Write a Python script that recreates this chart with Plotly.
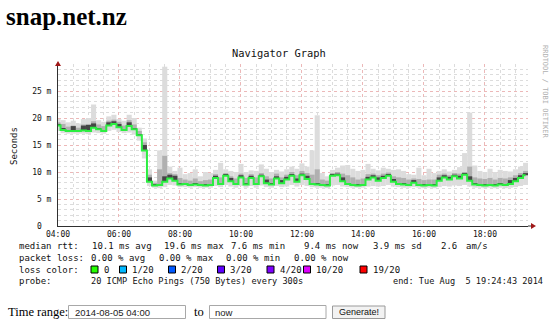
import plotly.graph_objects as go

# ---------------- data (10-minute samples, ms) ----------------
times = [f"2014-08-05 {4 + (i * 10) // 60:02d}:{(i * 10) % 60:02d}" for i in range(93)]

median = [18.6, 17.8, 17.6, 17.6, 17.6, 17.7, 17.6, 18.2, 17.9, 17.6, 18.6, 18.9, 18.3, 17.8, 18.5, 17.9,
          16.8, 14.0, 8.2, 7.5, 7.6, 8.2, 8.8, 8.4, 7.7, 7.8, 7.6, 7.7, 7.6, 7.5, 7.6, 8.9,
          7.8, 9.3, 8.3, 7.8, 9.0, 7.7, 8.9, 7.8, 9.2, 7.9, 7.7, 8.8, 7.9, 8.6, 9.3, 8.2,
          9.4, 8.7, 7.8, 7.7, 7.6, 7.5, 9.3, 9.4, 8.3, 7.8, 7.6, 7.5, 7.6, 8.6, 9.0, 8.4,
          8.9, 9.3, 8.2, 7.8, 7.7, 7.6, 8.0, 7.6, 7.5, 7.6, 7.5, 8.4, 9.0, 8.6, 9.2, 8.8,
          9.5, 8.4, 7.7, 7.6, 7.5, 7.6, 7.5, 7.7, 7.6, 7.8, 8.3, 8.9, 9.4]
smoke_lo = [17.6, 17.2, 17.1, 17.1, 17.1, 17.1, 17.0, 17.3, 17.2, 17.1, 17.6, 17.8, 17.4, 17.2, 17.3, 16.9,
            15.8, 12.5, 7.4, 7.1, 7.0, 7.2, 7.6, 7.5, 7.2, 7.2, 7.1, 7.2, 7.1, 7.1, 7.1, 7.4,
            7.2, 7.6, 7.3, 7.1, 7.4, 7.1, 7.4, 7.1, 7.5, 7.2, 7.1, 7.4, 7.2, 7.3, 7.6, 7.3,
            7.6, 7.4, 7.2, 7.1, 7.1, 7.0, 7.5, 7.6, 7.3, 7.2, 7.1, 7.1, 7.1, 7.3, 7.4, 7.3,
            7.4, 7.6, 7.3, 7.2, 7.1, 7.1, 7.2, 7.1, 7.0, 7.1, 7.0, 7.2, 7.4, 7.3, 7.5, 7.4,
            7.6, 7.3, 7.1, 7.1, 7.0, 7.1, 7.0, 7.1, 7.0, 7.1, 7.2, 7.4, 7.6]
smoke_hi = [19.8, 19.6, 19.2, 19.5, 19.0, 19.8, 20.0, 22.5, 19.6, 19.3, 20.3, 20.6, 19.8, 19.5, 20.6, 20.0,
            18.2, 16.2, 10.5, 8.4, 14.0, 29.5, 11.0, 10.2, 10.8, 9.6, 9.8, 10.5, 9.2, 10.0, 9.8, 10.4,
            11.7, 10.5, 10.2, 10.0, 11.5, 10.0, 10.3, 10.2, 11.4, 10.6, 10.0, 10.4, 10.1, 10.5, 11.0, 10.6,
            11.6, 11.0, 14.0, 20.5, 9.8, 9.2, 10.4, 10.8, 11.2, 11.3, 10.6, 10.2, 10.4, 11.5, 10.6, 10.3,
            10.8, 10.6, 10.4, 10.5, 10.2, 9.6, 9.5, 10.8, 9.4, 10.6, 9.8, 10.2, 10.5, 10.1, 10.4, 10.9,
            13.5, 21.0, 11.2, 10.2, 10.0, 10.6, 10.0, 10.4, 10.2, 10.1, 10.5, 11.0, 11.7]
mid_hi = [19.2, 18.9, 18.4, 18.6, 18.2, 18.8, 18.9, 19.4, 18.8, 18.5, 19.5, 19.7, 19.3, 18.6, 19.6, 18.8,
          17.6, 15.5, 9.5, 8.0, 10.5, 13.0, 9.8, 9.6, 8.9, 8.6, 8.4, 8.8, 8.3, 8.5, 8.6, 9.6,
          9.0, 9.8, 9.2, 8.8, 9.7, 8.9, 9.6, 9.0, 9.8, 9.2, 8.8, 9.7, 9.0, 9.5, 10.0, 9.4,
          10.2, 9.8, 9.5, 10.5, 8.6, 8.4, 9.8, 10.0, 9.7, 9.4, 9.0, 8.6, 8.8, 9.6, 9.7, 9.4,
          9.7, 9.9, 9.2, 9.0, 8.9, 8.6, 8.8, 8.7, 8.5, 8.6, 8.6, 9.5, 9.7, 9.4, 9.8, 9.7,
          10.0, 11.0, 9.0, 8.8, 8.7, 8.9, 8.6, 8.9, 8.8, 9.0, 9.4, 9.8, 10.2]
dark_hi = [18.9, 18.0, 17.7, 18.5, 17.7, 18.6, 18.7, 19.0, 18.0, 17.7, 19.2, 19.4, 18.9, 17.9, 19.2, 18.0,
           17.0, 15.0, 9.0, 7.6, 7.7, 9.2, 9.5, 9.3, 7.8, 7.9, 7.7, 7.8, 7.7, 7.6, 7.7, 9.3,
           7.9, 9.5, 8.9, 7.9, 9.4, 7.8, 9.3, 7.9, 9.5, 8.6, 7.8, 9.2, 8.5, 9.1, 9.6, 8.8,
           9.7, 9.3, 7.9, 7.8, 7.7, 7.6, 9.6, 9.7, 9.0, 7.9, 7.7, 7.6, 7.7, 9.1, 9.4, 9.0,
           9.3, 9.6, 8.7, 7.9, 7.8, 7.7, 8.5, 7.7, 7.6, 7.7, 7.6, 9.0, 9.4, 9.1, 9.5, 9.3,
           9.7, 9.2, 7.8, 7.7, 7.6, 7.7, 7.6, 7.8, 7.7, 8.5, 8.9, 9.4, 9.8]

y_ticks = [0, 5, 10, 15, 20, 25]
y_tick_labels = ["0\u00a0\u00a0", "5 m", "10 m", "15 m", "20 m", "25 m"]

loss_levels = ["0", "1/20", "2/20", "3/20", "4/20", "10/20", "19/20"]
loss_colors = ["#26ff00", "#00b8ff", "#0059ff", "#5e00ff", "#7e00ff", "#dd00ff", "#ff0000"]

# ---------------- geometry helpers ----------------
L, R, T, B = 58, 528, 64, 226
W, H = R - L, B - T


def px(x):
    return (x - L) / W


def py(y):
    return (B - y) / H


MONO = "DejaVu Sans Mono"
SERIF = "Liberation Serif"
SANS = "Liberation Sans"

fig = go.Figure()


def band(lo, hi, color):
    fig.add_trace(go.Bar(
        x=times, base=lo, y=[max(h - l, 0) for l, h in zip(lo, hi)],
        width=600000, marker=dict(color=color, line=dict(width=0)),
        hoverinfo="skip", showlegend=False))


band(smoke_lo, smoke_hi, "#dcdcdc")
band(median, mid_hi, "#b0b0b0")
band(median, dark_hi, "#454545")

fig.add_trace(go.Scatter(
    x=times, y=median, mode="lines", line=dict(color="#2aee40", width=2, shape="hvh"),
    hoverinfo="skip", showlegend=False))

fig.update_layout(
    width=560, height=331,
    margin=dict(l=L, r=560 - R, t=T, b=331 - B, pad=0),
    paper_bgcolor="white", plot_bgcolor="white",
    barmode="overlay", showlegend=False,
    xaxis=dict(
        type="date", range=["2014-08-05 04:00:00", "2014-08-05 19:24:43"],
        tickformat="%H:%M", dtick=7200000, tick0="2014-08-05 04:00",
        showgrid=True, gridcolor="#ecb8b8", griddash="dot", gridwidth=1,
        minor=dict(dtick=1800000, showgrid=True, gridcolor="#dcdcdc", griddash="dot"),
        showline=True, linecolor="#303030", linewidth=1,
        ticks="", tickfont=dict(family=MONO, size=8, color="#111"),
        zeroline=False, fixedrange=True,
    ),
    yaxis=dict(
        range=[0, 30], tickvals=y_ticks, ticktext=y_tick_labels,
        showgrid=True, gridcolor="#ecb8b8", griddash="dot", gridwidth=1,
        minor=dict(dtick=1, showgrid=True, gridcolor="#dcdcdc", griddash="dot"),
        showline=True, linecolor="#303030", linewidth=1,
        ticks="", ticklabelstandoff=4, tickfont=dict(family=MONO, size=8, color="#111"),
        zeroline=False, fixedrange=True,
    ),
)

shapes = []
# axis extensions and arrow heads
shapes.append(dict(type="line", xref="paper", yref="paper", x0=1, x1=px(532), y0=0, y1=0,
                   line=dict(color="#303030", width=1)))
shapes.append(dict(type="path", xref="paper", yref="paper",
                   path=f"M {px(531)},{py(223)} L {px(536)},{py(226)} L {px(531)},{py(229)} Z",
                   fillcolor="#a01818", line=dict(width=0)))
shapes.append(dict(type="path", xref="paper", yref="paper",
                   path=f"M {px(55)},{py(66)} L {px(58)},{py(61)} L {px(61)},{py(66)} Z",
                   fillcolor="#a01818", line=dict(width=0)))

annotations = []


def text(x, y, s, size=9, family=MONO, color="#111", xanchor="left", angle=0, bold=False):
    annotations.append(dict(
        x=px(x), y=py(y), xref="paper", yref="paper", text=f"<b>{s}</b>" if bold else s,
        showarrow=False, xanchor=xanchor, yanchor="middle", textangle=angle,
        font=dict(family=family, size=size, color=color), borderpad=0))


text(5, 16, "snap.net.nz", size=25, family=SERIF, color="#000", bold=True)
text(279, 53, "Navigator Graph", size=10.4, xanchor="center")
text(14, 146, "Seconds", size=9, xanchor="center", angle=-90)
text(545, 92, "RRDTOOL / TOBI OETIKER", size=7, color="#b0b0b0", xanchor="center", angle=90)

# legend lines
y1, y2, y3, y4 = 245.5, 257.5, 269.5, 281
for x, s in [(18, "median rtt:"), (90.5, "10.1 ms avg"), (163, "19.6 ms max"), (230, "7.6 ms min"),
             (303, "9.4 ms now"), (371.5, "3.9 ms sd"), (440, "2.6"), (465, "am/s")]:
    text(x, y1, s)
for x, s in [(18, "packet loss:"), (90, "0.00 % avg"), (158, "0.00 % max"), (225, "0.00 % min"),
             (293, "0.00 % now")]:
    text(x, y2, s)
text(18, y3, "loss color:")
sq_x = [91, 119.5, 168.5, 217.5, 267, 303.5, 360]
for sx, lvl, col in zip(sq_x, loss_levels, loss_colors):
    shapes.append(dict(type="rect", xref="paper", yref="paper",
                       x0=px(sx), x1=px(sx + 7), y0=py(y3 - 3.5), y1=py(y3 + 3.5),
                       fillcolor=col, line=dict(color="#000", width=1)))
    text(sx + 11.5, y3, lvl)
text(18, y4, "probe:")
text(90, y4, "20 ICMP Echo Pings (750 Bytes) every 300s", size=8.6)
text(544, y4, "end: Tue Aug\u00a0\u00a05 19:24:43 2014", size=8.6, xanchor="right")

# form row
fy = 312
text(7, fy, "Time range:", size=12.5, family=SERIF, color="#000")
shapes.append(dict(type="rect", xref="paper", yref="paper", x0=px(68.5), x1=px(185.5),
                   y0=py(318.5), y1=py(305.5), fillcolor="white", line=dict(color="#a8a8a8", width=1)))
text(73.5, fy, "2014-08-05 04:00", size=9.5, family=SANS, color="#222")
text(192.5, fy, "to", size=12.5, family=SERIF, color="#000")
shapes.append(dict(type="rect", xref="paper", yref="paper", x0=px(209.5), x1=px(326),
                   y0=py(318.5), y1=py(305.5), fillcolor="white", line=dict(color="#a8a8a8", width=1)))
text(214, fy, "now", size=9.5, family=SANS, color="#222")
shapes.append(dict(type="rect", xref="paper", yref="paper", x0=px(332.5), x1=px(385),
                   y0=py(318.5), y1=py(306), fillcolor="#f2f2f2", line=dict(color="#9a9a9a", width=1)))
text(358.7, fy, "Generate!", size=9, family=SANS, color="#111", xanchor="center")

fig.update_layout(shapes=shapes, annotations=annotations)
fig.write_html("out.html")
